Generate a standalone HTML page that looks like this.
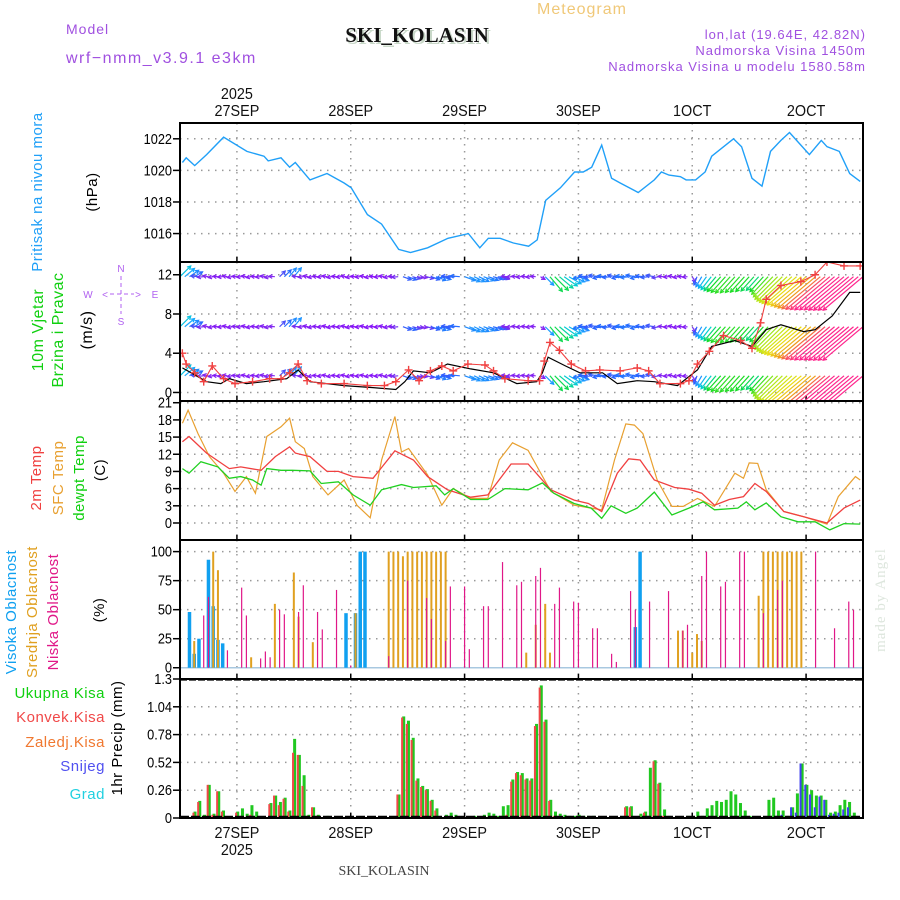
<!DOCTYPE html>
<html><head><meta charset="utf-8"><style>
body{margin:0;background:#fff;}
svg{display:block;font-family:"Liberation Sans",sans-serif;}
</style></head><body>
<svg id="chart" width="900" height="900" viewBox="0 0 900 900" xmlns="http://www.w3.org/2000/svg">
<rect x="0" y="0" width="900" height="900" fill="#fff"/>
<text x="582" y="14" font-size="16" fill="#f0c878" text-anchor="middle" letter-spacing="1">Meteogram</text>
<text x="66" y="34" font-size="14" fill="#a050e0" letter-spacing="1">Model</text>
<text x="66" y="63" font-size="16" fill="#a050e0" letter-spacing="1.5">wrf−nmm_v3.9.1 e3km</text>
<text x="419" y="44" font-size="21" font-weight="bold" fill="#c8d8c8" text-anchor="middle" font-family="Liberation Serif,serif">SKI_KOLASIN</text>
<text x="417" y="42" font-size="21" font-weight="bold" fill="#111" text-anchor="middle" font-family="Liberation Serif,serif">SKI_KOLASIN</text>
<text x="866" y="39" font-size="13" fill="#a050e0" text-anchor="end" letter-spacing="1">lon,lat (19.64E, 42.82N)</text>
<text x="866" y="55" font-size="13" fill="#a050e0" text-anchor="end" letter-spacing="1">Nadmorska Visina 1450m</text>
<text x="866" y="71" font-size="13" fill="#a050e0" text-anchor="end" letter-spacing="1">Nadmorska Visina u modelu 1580.58m</text>
<text x="384" y="875" font-size="14" fill="#444" text-anchor="middle" font-family="Liberation Serif,serif">SKI_KOLASIN</text>
<text transform="translate(885,600) rotate(-90)" font-size="15" fill="#dde6dd" text-anchor="middle" font-family="Liberation Serif,serif" letter-spacing="1">made by Angel</text>
<g id="g"></g>
</svg>
<script>
// ---------- data ----------
const dayLabels = ["27SEP","28SEP","29SEP","30SEP","1OCT","2OCT"];
const dayHours = [12,36,60,84,108,132];
const yearLabel = "2025";

const presHours = [0.5,1.3,3.1,5.6,9.2,14.1,17.7,18.6,21.3,23.1,24.3,27.4,31.0,34.6,36.1,39.5,42.5,46.1,48.6,52.2,56.5,60.8,63.2,65.0,67.5,70.3,73.5,75.3,77.1,80.2,83.2,85.0,86.8,88.9,91.0,92.8,96.6,100.0,101.5,103.1,105.5,106.7,108.7,110.7,112.1,116.7,118.4,120.6,122.7,124.5,126.7,128.5,130.6,132.7,135.2,136.4,139.0,141.2,143.4];
const presValues = [1020.5,1020.8,1020.3,1021.0,1022.1,1021.2,1020.9,1020.6,1020.8,1020.2,1020.5,1019.4,1019.8,1019.2,1018.9,1017.2,1016.6,1015.0,1014.8,1015.1,1015.7,1016.0,1015.1,1015.7,1015.7,1015.4,1015.2,1015.6,1018.1,1018.9,1019.9,1019.9,1020.2,1021.6,1019.5,1019.2,1018.6,1019.4,1019.9,1019.7,1019.6,1019.4,1019.4,1019.9,1020.9,1022.0,1021.5,1019.5,1019.0,1021.2,1021.9,1022.4,1021.7,1021.0,1021.9,1021.5,1021.2,1019.8,1019.3];
const presTicks = [1016,1018,1020,1022];

const windHours = [0.5,1.3,3.1,5.0,6.8,9.2,11.6,15.3,18.9,21.3,23.1,24.9,26.8,29.8,34.6,39.5,43.1,45.5,48.2,50.4,52.8,55.2,57.6,60.7,64.3,66.1,68.5,73.4,75.8,76.8,78.0,80.0,82.5,85.5,88.5,92.8,96.4,98.8,101.2,105.5,107.3,109.1,111.6,114.6,118.2,120.6,122.4,123.6,126.7,130.9,133.9,136.4,140.0,143.4];
const windSpeed = [4.0,2.9,2.0,1.1,2.7,1.4,0.9,1.1,1.4,1.4,2.0,2.9,1.2,0.9,0.9,0.7,0.7,1.1,2.3,1.2,2.2,2.7,2.2,2.9,2.8,2.2,1.4,1.2,1.2,3.2,5.1,4.3,2.9,2.2,2.3,2.2,2.5,2.2,0.9,0.9,1.2,2.9,4.2,5.8,5.3,4.5,7.1,9.5,10.9,11.3,12.0,13.3,12.9,12.9];
const blackHours = [0.5,3.1,5.6,8.6,10.4,14.0,17.7,22.5,24.9,27.4,34.6,40.7,45.5,47.4,49.2,52.8,56.4,61.3,66.1,71.0,75.2,76.4,77.6,81.3,84.3,89.1,92.2,96.4,100.0,104.9,109.1,112.1,117.0,120.6,123.6,126.7,131.5,133.9,137.5,141.2,143.4];
const blackValues = [2.5,1.8,1.1,0.9,1.4,0.9,1.1,1.4,2.3,1.1,0.7,0.5,0.3,1.1,2.2,2.0,2.9,2.4,2.0,0.9,1.1,2.0,3.6,2.7,2.0,2.0,0.9,1.2,1.1,0.7,2.3,4.7,5.3,4.7,6.4,6.9,6.2,6.4,7.8,10.2,10.2];
const windTicks = [0,4,8,12];
// hourly barbs h=0..144
const barbSpeed = [3.8,3.2,2.8,2.4,2.0,1.6,1.4,1.2,1.1,1.0,1.0,1.1,1.2,1.1,1.0,1.0,1.1,1.2,1.3,1.4,1.5,2.0,2.4,2.8,2.9,1.6,1.3,1.1,1.0,1.0,0.9,0.9,0.9,0.9,0.9,0.9,0.8,0.8,0.8,0.8,0.8,0.8,0.8,0.9,1.0,1.1,1.6,2.2,2.3,2.0,1.6,1.4,1.8,2.2,2.6,2.6,2.4,2.2,2.2,2.4,2.8,2.9,2.9,2.8,2.8,2.6,2.4,2.2,1.8,1.5,1.4,1.3,1.3,1.2,1.2,1.3,1.3,3.0,4.8,4.8,4.4,4.0,3.5,3.0,2.8,2.5,2.3,2.2,2.2,2.3,2.4,2.3,2.2,2.3,2.5,2.5,2.4,2.4,2.3,2.2,2.1,1.8,1.4,1.1,1.0,1.0,1.1,1.2,1.6,2.2,2.9,3.5,4.1,4.6,5.0,5.3,5.5,5.4,5.3,5.2,5.0,4.8,4.6,5.0,6.0,7.0,8.0,8.8,9.4,10.0,10.5,11.0,11.4,11.8,12.2,12.5,12.7,12.8,12.9,12.9,12.9,13.0,13.0,13.0,13.0];
const barbDir = [45,40,35,30,175,185,170,190,175,185,170,190,175,185,170,190,175,185,170,190,175,45,45,50,50,175,185,170,190,175,185,170,190,175,185,170,190,175,185,170,190,175,185,170,190,175,185,-20,-20,-15,-10,-10,-15,-20,-20,-15,190,175,185,175,-20,-25,-25,-25,-20,-20,-15,-15,-20,175,185,175,185,175,185,175,-30,-45,-50,-45,-40,-35,-30,-25,-20,190,175,185,170,190,175,185,170,190,175,185,170,190,175,185,170,190,175,185,170,190,175,185,-60,-110,-120,-125,-128,-130,-132,-132,-132,-132,-132,-132,-132,-132,-132,-132,-133,-134,-135,-136,-137,-138,-139,-140,-140,-140,-140,-140,-140,-140,-140,-140,-140,-140,-140,-140,-140,-140,-140];
const barbLevels = [11.8,6.7,1.7];

const t2Hours = [0.5,1.9,5.6,10.4,12.8,17.1,20.1,23.1,24.3,27.4,31.0,33.4,36.5,40.7,45.3,49.2,52.2,56.4,61.3,64.9,69.8,73.4,78.2,83.1,86.1,88.9,92.2,94.6,97.0,100.0,104.3,107.3,110.0,112.7,115.8,118.8,121.2,123.6,127.3,131.5,136.4,140.0,143.4];
const t2Values = [14.2,15.1,12.2,9.5,9.8,9.2,11.6,13.3,12.2,11.6,9.0,9.0,8.1,7.8,12.6,11.0,8.1,5.8,4.5,4.9,10.3,10.3,5.8,4.0,3.4,2.0,8.7,11.2,11.0,7.5,6.2,5.9,5.2,3.1,4.1,4.6,6.9,5.5,2.0,1.1,0.0,2.6,4.0];
const sfcHours = [0.5,1.7,3.8,6.2,9.2,11.6,14.0,15.9,18.3,21.3,23.1,24.3,26.2,28.0,31.2,34.6,37.3,40.1,42.5,45.3,46.7,48.2,52.2,55.2,57.6,61.3,64.9,67.3,70.1,73.4,78.2,83.1,86.7,88.9,91.6,94.0,95.8,97.6,100.6,103.7,106.1,109.1,112.7,117.0,118.8,120.0,121.8,123.6,127.3,131.5,136.4,138.8,142.4,143.4];
const sfcValues = [17.4,19.7,15.6,11.6,8.7,5.5,8.1,5.2,15.1,16.8,18.3,14.2,13.0,8.1,4.9,7.5,3.1,0.9,11.0,18.6,12.4,13.0,8.4,3.1,6.0,4.3,4.3,11.0,14.0,12.7,5.5,3.1,2.6,2.3,11.0,17.3,17.1,15.6,7.5,2.9,2.9,4.3,2.9,8.7,7.8,10.5,10.4,5.8,2.0,1.1,-0.2,4.6,8.1,7.5];
const dewHours = [0.5,1.9,4.4,8.0,10.4,12.8,15.3,17.1,18.3,21.3,23.7,27.4,29.8,33.4,36.5,40.1,42.5,46.7,49.2,54.0,55.8,57.6,61.3,64.9,68.5,73.4,76.4,78.8,83.1,86.7,88.9,90.9,94.0,96.4,100.0,103.7,107.3,110.3,112.7,117.6,119.4,121.2,123.6,126.7,130.3,133.9,137.0,140.0,143.4];
const dewValues = [9.5,8.7,10.7,9.8,7.8,8.1,7.5,6.6,9.5,9.2,9.2,9.1,6.9,7.2,4.9,3.1,5.8,6.7,6.2,6.5,4.9,6.0,4.1,4.1,6.0,5.8,7.0,5.2,3.4,2.6,0.8,3.0,1.7,2.6,5.4,1.4,2.6,3.7,2.3,2.6,3.7,2.3,3.5,1.1,0.2,0.2,-1.2,-0.1,-0.2];
const tempTicks = [0,3,6,9,12,15,18,21];

const highHours = [2,3,4,6,7,8,9,35,37,38,39,96,97];
const highValues = [48,12,25,93,53,24,21,47,47,100,100,35,100];
const midHours = [3,7,8,15,20,24,25,28,37,44,45,46,47,48,49,50,51,52,53,54,55,56,73,75,77,78,105,106,108,109,110,122,123,124,125,126,127,128,129,130,131];
const midValues = [23,100,84,9,55,82,44,22,47,100,100,100,96,100,100,100,100,100,100,100,100,100,13,37,55,13,32,32,13,29,23,62,100,100,100,100,100,100,100,100,100];
const lowHours = [5,6,10,13,14,17,18,19,21,22,25,26,29,30,33,36,44,48,52,53,56,57,60,61,64,65,68,71,72,75,76,79,80,83,84,87,88,91,92,95,96,99,103,106,107,110,111,114,115,118,119,123,126,127,134,138,141,142];
const lowValues = [45,61,15,69,45,8,14,9,50,46,48,71,48,33,67,2,10,75,60,42,23,70,70,16,53,53,91,71,74,79,86,55,69,57,56,34,34,12,5,66,50,57,66,32,37,79,100,70,74,100,100,47,67,75,100,34,57,50];
const cloudTicks = [0,25,50,75,100];

const precipHours = [3,4,5,6,7,8,9,12,13,14,15,16,19,20,21,22,23,24,25,26,27,28,29,31,46,47,48,49,50,51,52,53,54,56,57,58,62,64,65,66,67,68,69,70,71,72,73,74,75,76,77,78,79,80,81,82,83,84,85,86,87,94,95,97,98,99,100,101,102,103,107,109,110,111,112,113,114,115,116,117,118,119,120,124,125,126,127,128,129,130,131,132,133,134,135,136,137,138,139,140,141,142];
const precipTotal = [0.06,0.16,0.03,0.31,0.04,0.25,0.07,0.06,0.09,0.04,0.12,0.06,0.14,0.21,0.15,0.19,0.07,0.74,0.59,0.40,0.03,0.10,0.03,0.02,0.22,0.95,0.91,0.75,0.37,0.30,0.27,0.17,0.09,0.03,0.05,0.03,0.02,0.03,0.05,0.04,0.02,0.11,0.12,0.36,0.43,0.42,0.37,0.37,0.88,1.24,0.92,0.17,0.06,0.04,0.03,0.02,0.02,0.03,0.02,0.02,0.02,0.11,0.11,0.04,0.06,0.47,0.54,0.33,0.08,0.02,0.02,0.06,0.02,0.09,0.12,0.16,0.15,0.17,0.25,0.22,0.14,0.07,0.02,0.17,0.19,0.07,0.07,0.02,0.10,0.23,0.51,0.31,0.26,0.21,0.21,0.17,0.05,0.06,0.12,0.17,0.15,0.05];
const precipConv = [0.05,0.15,0.02,0.31,0.03,0.25,0.06,0.05,0.02,0.01,0.03,0.01,0.13,0.21,0.12,0.18,0.06,0.61,0.59,0.30,0.02,0.10,0.02,0.01,0.22,0.94,0.88,0.73,0.35,0.29,0.26,0.16,0.07,0.01,0.01,0.01,0.01,0.01,0.01,0.01,0.01,0.02,0.03,0.34,0.42,0.40,0.36,0.35,0.86,1.22,0.90,0.16,0.02,0.01,0.01,0.01,0.01,0.01,0.01,0.01,0.01,0.10,0.10,0.02,0.05,0.02,0.53,0.32,0.02,0.01,0.01,0.01,0,0,0,0,0,0,0,0,0,0,0,0,0,0,0,0,0,0,0,0,0,0,0,0,0,0,0,0,0,0];
const precipSnow = [0,0,0,0,0,0,0,0,0,0,0,0,0,0,0,0,0,0,0,0,0,0,0,0,0,0,0,0,0,0,0,0,0,0,0,0,0,0,0,0,0,0,0,0,0,0,0,0,0,0,0,0,0,0,0,0,0,0,0,0,0,0,0,0,0,0,0,0,0,0,0,0,0,0,0,0,0,0,0,0,0,0,0,0,0,0.02,0.03,0,0.10,0.05,0.51,0.31,0.22,0.1,0.2,0.17,0.03,0.04,0.05,0.08,0.1,0.02];
const precipTicks = [0,0.26,0.52,0.78,1.04,1.3];

// ---------- layout ----------
const X0=180, X1=863, H0=0, H1=144;
const xs = h => X0 + (h-H0)/(H1-H0)*(X1-X0);
const panels = {
  pres:{top:123,bot:262,min:1014.2,max:1023.0},
  wind:{top:262,bot:401,min:-0.87,max:13.3},
  temp:{top:401,bot:540,min:-2.97,max:21.3},
  cloud:{top:540,bot:679,min:-9.7,max:110},
  precip:{top:679,bot:818,min:0,max:1.3}
};
const ys = (p,v) => p.bot - (v-p.min)/(p.max-p.min)*(p.bot-p.top);
const NS="http://www.w3.org/2000/svg";
const G=document.getElementById('g');
function mk(tag,attrs,parent){const e=document.createElementNS(NS,tag);for(const k in attrs)e.setAttribute(k,attrs[k]);(parent||G).appendChild(e);return e;}
function txt(s,attrs,parent){const e=mk('text',attrs,parent);e.textContent=s;return e;}

// clip paths
const defs=mk('defs',{});
for(const k in panels){const p=panels[k];const c=mk('clipPath',{id:'clip-'+k},defs);mk('rect',{x:X0,y:p.top,width:X1-X0,height:p.bot-p.top},c);}

// grids & ticks
function panelFrame(name,p,ticks,fmt){
  const grp=mk('g',{});
  
  
  ticks.forEach(t=>{const y=ys(p,t);
    mk('line',{x1:X0,x2:X1,y1:y,y2:y,stroke:'#999','stroke-dasharray':'1.5,5.5','stroke-width':1.5},grp);
    mk('line',{x1:X0-7,x2:X0,y1:y,y2:y,stroke:'#000','stroke-width':1.5},grp);
    const lb=txt(fmt(t),{x:X0-8,y:y+5,'font-size':15,'text-anchor':'end',fill:'#000','transform':`translate(${X0-8},${y+5}) scale(0.85,1) translate(${-(X0-8)},${-(y+5)})`},grp);
    
    
  });
  dayHours.forEach(h=>{const x=xs(h);
    mk('line',{x1:x,x2:x,y1:p.top,y2:p.bot,stroke:'#999','stroke-dasharray':'1.5,5.5','stroke-width':1.5},grp);
    mk('line',{x1:x,x2:x,y1:p.bot-5,y2:p.bot,stroke:'#000','stroke-width':1.5},grp);
  });
}
panelFrame('pressure',panels.pres,presTicks,t=>String(t));
panelFrame('wind',panels.wind,windTicks,t=>String(t));
panelFrame('temp',panels.temp,tempTicks,t=>String(t));
panelFrame('cloud',panels.cloud,cloudTicks,t=>String(t));
panelFrame('precip',panels.precip,precipTicks,t=>String(t));

function line(hs,vs,p,color,clip,name,w){
  const d=hs.map((h,i)=>(i?'L':'M')+xs(h).toFixed(1)+','+ys(p,vs[i]).toFixed(1)).join('');
  const e=mk('path',{d:d,fill:'none',stroke:color,'stroke-width':w||1.3,'clip-path':'url(#clip-'+clip+')'});
  
  
  return e;
}
// pressure
line(presHours,presValues,panels.pres,'#20a0f8','pres','pressure-line',1.4);

// wind barbs
function barbColor(s){
  const stops=[[0,[140,0,255]],[1.5,[130,40,240]],[2.3,[40,100,255]],[3.2,[20,170,255]],[4.2,[0,210,200]],[5.0,[20,220,40]],[7,[130,230,30]],[9.5,[200,230,20]],[11,[235,220,20]],[12.3,[240,150,30]],[12.9,[255,40,140]],[14,[255,20,150]]];
  for(let i=1;i<stops.length;i++){if(s<=stops[i][0]){const a=stops[i-1],b=stops[i],f=(s-a[0])/(b[0]-a[0]);return 'rgb('+a[1].map((c,j)=>Math.round(c+(b[1][j]-c)*f)).join(',')+')';}}
  return 'rgb(255,20,150)';
}
const barbG=mk('g',{'clip-path':'url(#clip-wind)'});


barbLevels.forEach(lv=>{
  barbSpeed.forEach((s,i)=>{
    const x=xs(i), y=ys(panels.wind,lv);
    const len=Math.max(5,s*4);
    const a=barbDir[i]*Math.PI/180;
    const x2=x+Math.cos(a)*len, y2=y-Math.sin(a)*len;
    const c=barbColor(s);
    const l=mk('line',{x1:x,y1:y,x2:x2,y2:y2,stroke:c,'stroke-width':1.2},barbG);
    
    
    const ha=a+Math.PI; const hl=4;
    mk('path',{d:`M${x2+Math.cos(ha+0.5)*hl},${y2-Math.sin(ha+0.5)*hl}L${x2},${y2}L${x2+Math.cos(ha-0.5)*hl},${y2-Math.sin(ha-0.5)*hl}`,fill:'none',stroke:c,'stroke-width':1.2},barbG);
  });
});
line(blackHours,blackValues,panels.wind,'#000','wind','wind-black-line',1.2);
line(windHours,windSpeed,panels.wind,'#f04040','wind','wind-speed-line',1.1);
const markG=mk('g',{'clip-path':'url(#clip-wind)'});


windHours.forEach((h,i)=>{const x=xs(h),y=ys(panels.wind,windSpeed[i]);
  mk('path',{d:`M${x-4},${y}L${x+4},${y}M${x},${y-4}L${x},${y+4}`,stroke:'#f04040','stroke-width':1.4},markG);});

// temp
line(sfcHours,sfcValues,panels.temp,'#e8a030','temp','sfc-temp-line',1.2);
line(t2Hours,t2Values,panels.temp,'#f04040','temp','t2m-line',1.3);
line(dewHours,dewValues,panels.temp,'#20d020','temp','dewpoint-line',1.3);

// cloud
const pc=panels.cloud;
mk('line',{x1:X0,x2:X1,y1:ys(pc,0),y2:ys(pc,0),stroke:'#a8c8e0','stroke-width':1.5});
function bars(hs,vs,p,color,w,off,name){
  hs.forEach((h,i)=>{if(vs[i]<=0)return;const x=xs(h)+off;const y=ys(p,vs[i]);const y0=ys(p,0);
    const r=mk('rect',{x:x-w/2,y:y,width:w,height:y0-y,fill:color});
    
    
  });
}
bars(highHours,highValues,pc,'#10a0f0',3.5,0,'high-cloud-bar');
bars(midHours,midValues,pc,'#e0a020',2,0,'mid-cloud-bar');
bars(lowHours,lowValues,pc,'#e01888',1.2,0,'low-cloud-bar');

// precip
const pp=panels.precip;
bars(precipHours,precipTotal,pp,'#20c820',3,0.8,'total-precip-bar');
bars(precipHours,precipConv,pp,'#f04848',2,-0.8,'convective-precip-bar');
bars(precipHours,precipSnow,pp,'#4040f0',2,-0.8,'snow-precip-bar');
mk('line',{x1:X0,x2:X1,y1:pp.bot-1,y2:pp.bot-1,stroke:'#000','stroke-width':2.5,'stroke-dasharray':'9,2'});
mk('line',{x1:X0,x2:X1,y1:pp.top+1,y2:pp.top+1,stroke:'#000','stroke-width':1.2,'stroke-dasharray':'7,2'});

// frames
for(const k in panels){const p=panels[k];const r=mk('rect',{x:X0,y:p.top,width:X1-X0,height:p.bot-p.top,fill:'none',stroke:'#000','stroke-width':2});
  
  }

// date labels
function dateLabel(s,x,y,name){const e=txt(s,{x:x,y:y,'font-size':16,'text-anchor':'middle',fill:'#111','transform':`translate(${x},${y}) scale(0.9,1) translate(${-x},${-y})`});
  
  }
dayLabels.forEach((s,i)=>{const x=xs(dayHours[i]);dateLabel(s,x,116,'top-date-label');dateLabel(s,x,838,'bottom-date-label');});
dateLabel(yearLabel,xs(dayHours[0]),99,'top-year-label');
dateLabel(yearLabel,xs(dayHours[0]),855,'bottom-year-label');

// axis titles
function vt(s,x,yc,color,size,name){const e=txt(s,{x:0,y:0,'font-size':size||15,fill:color,'text-anchor':'middle',transform:`translate(${x},${yc}) rotate(-90)`,'letter-spacing':'0.5'});
  
  }
vt('Pritisak na nivou mora',42,192,'#20a0f8',15,'pressure-title');
vt('(hPa)',97,192,'#000',15,'pressure-unit');
vt('10m Vjetar',43,330,'#10d010',16,'wind-title-1');
vt('Brzina i Pravac',63,330,'#10d010',16,'wind-title-2');
vt('(m/s)',92,330,'#000',16,'wind-unit');
vt('2m Temp',41,478,'#f04040',15,'t2m-title');
vt('SFC Temp',63,478,'#e8a030',15,'sfc-temp-title');
vt('dewpt Temp',84,478,'#10d010',15,'dewpoint-title');
vt('(C)',105,470,'#000',15,'temp-unit');
vt('Visoka Oblacnost',16,612,'#10a0f0',15,'high-cloud-title');
vt('Srednja Oblacnost',37,612,'#e0a020',15,'mid-cloud-title');
vt('Niska Oblacnost',58,612,'#e01888',15,'low-cloud-title');
vt('(%)',104,610,'#000',15,'cloud-unit');
vt('1hr Precip (mm)',122,738,'#000',15,'precip-unit');
[['Ukupna Kisa','#10d010',698],['Konvek.Kisa','#f04848',722],['Zaledj.Kisa','#f07830',747],['Snijeg','#5050f0',771],['Grad','#20d0e0',799]].forEach(a=>{
  const e=txt(a[0],{x:105,y:a[2],'font-size':15,fill:a[1],'text-anchor':'end','letter-spacing':'0.5'});
  
  
});
// compass
const cg=mk('g',{});


txt('N',{x:121,y:272,'font-size':10,fill:'#b060f0','text-anchor':'middle'},cg);
txt('W',{x:88,y:298,'font-size':10,fill:'#b060f0','text-anchor':'middle'},cg);
txt('E',{x:155,y:298,'font-size':10,fill:'#b060f0','text-anchor':'middle'},cg);
txt('S',{x:121,y:325,'font-size':10,fill:'#b060f0','text-anchor':'middle'},cg);
txt('<',{x:105,y:298,'font-size':10,fill:'#b060f0','text-anchor':'middle'},cg);
txt('>',{x:138,y:298,'font-size':10,fill:'#b060f0','text-anchor':'middle'},cg);
mk('line',{x1:110,x2:134,y1:294,y2:294,stroke:'#b060f0','stroke-dasharray':'4,3'},cg);
mk('line',{x1:121,x2:121,y1:276,y2:314,stroke:'#b060f0','stroke-dasharray':'4,3'},cg);
</script>
</body></html>
